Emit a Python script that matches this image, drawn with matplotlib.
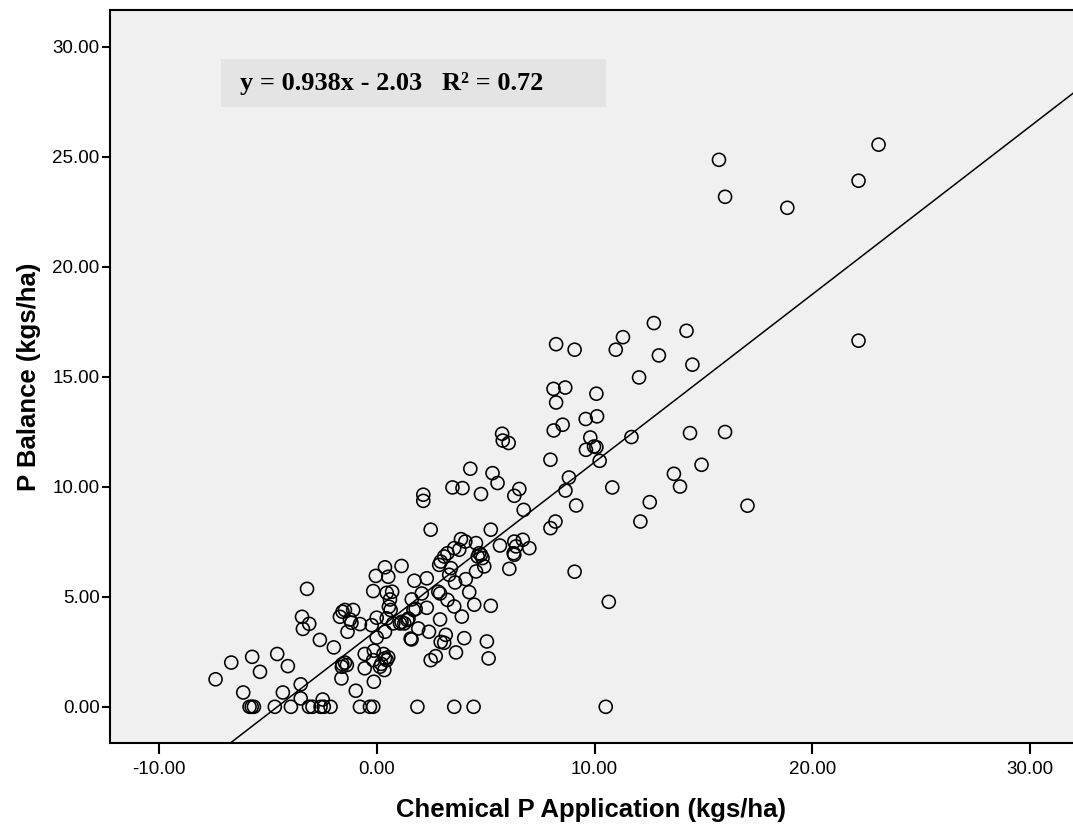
import numpy as np
import matplotlib
matplotlib.use("Agg")
import matplotlib.pyplot as plt
from matplotlib.patches import Rectangle

# chemical P application (x) and P balance (y)
chem_p = [
    -7.41, -6.69, -6.14, -5.73, -5.37, -5.85, -5.75, -5.65, -4.58, -4.69,
    -4.32, -4.09, -3.95, -3.50, -3.50, -3.21, -3.44, -3.40, -3.11, -3.12,
    -2.96, -2.59, -2.44, -2.49, -2.13, -2.62, -1.98, -1.59, -1.47, -1.38,
    -1.63, -1.61, -1.58, -1.47, -1.09, -1.70, -1.24, -1.17, -0.78, -1.35,
    -0.97, -0.78, -0.32, -0.17, -0.56, -0.14, -0.17, -0.56, -0.14, 0.14,
    0.34, 0.37, 0.52, 0.45, -0.01, 0.37, -0.24, -0.01, 0.45, 0.75,
    0.55, 0.63, 0.60, 0.45, 0.70, -0.17, -0.05, 0.52, 0.37, 1.13,
    1.06, 1.13, 1.40, 1.59, 1.68, 1.60, 2.06, 1.72, 2.29, 2.29,
    1.90, 2.39, 2.47, 1.86, 2.93, 3.09, 2.90, 2.82, 2.90, 3.16,
    3.63, 4.01, 5.05, 5.13, 3.55, 4.44, 3.90, 3.55, 3.24, 4.47,
    5.23, 4.24, 4.08, 3.59, 2.47, 2.13, 2.13, 3.40, 3.32, 2.93,
    2.86, 3.09, 3.24, 3.55, 3.78, 3.86, 4.06, 4.55, 4.63, 4.70,
    4.78, 4.85, 4.93, 4.55, 5.65, 5.23, 3.47, 3.93, 4.78, 4.29,
    5.31, 5.54, 5.75, 5.78, 6.05, 6.31, 6.54, 6.74, 6.31, 6.70,
    7.00, 6.39, 6.28, 6.31, 6.08, 7.97, 8.20, 7.97, 8.82, 8.66,
    9.15, 9.08, 10.65, 10.51, 8.23, 9.08, 11.30, 10.97, 12.72, 14.22,
    12.95, 14.49, 12.04, 8.11, 8.65, 8.23, 10.08, 10.11, 9.59, 8.53,
    8.12, 9.80, 9.97, 10.08, 9.60, 10.23, 11.69, 14.38, 15.99, 14.91,
    13.64, 13.92, 17.02, 10.81, 12.53, 12.10, 15.71, 15.99, 18.85, 22.12,
    23.04, 22.12, 1.45, 1.26, 1.78, 0.30, 0.20, 2.70, 1.55,
]
p_balance = [
    1.25, 2.01, 0.65, 2.27, 1.59, 0.00, 0.00, 0.00, 2.40, 0.00,
    0.65, 1.85, 0.00, 1.02, 0.38, 5.36, 4.09, 3.54, 3.77, 0.00,
    0.00, 0.00, 0.00, 0.33, 0.00, 3.04, 2.70, 1.94, 2.01, 1.90,
    1.29, 1.82, 4.32, 4.40, 4.40, 4.09, 3.97, 3.82, 3.76, 3.41,
    0.73, 0.00, 0.00, 0.00, 2.40, 2.55, 2.12, 1.75, 1.14, 1.82,
    1.67, 2.20, 2.25, 2.12, 3.15, 3.41, 3.71, 4.05, 4.02, 3.79,
    4.55, 4.40, 4.88, 5.18, 5.23, 5.26, 5.95, 5.91, 6.34, 6.40,
    3.79, 3.86, 3.94, 3.06, 4.40, 4.88, 5.15, 5.73, 5.84, 4.50,
    3.56, 3.41, 2.12, 0.00, 2.95, 2.91, 3.97, 5.23, 5.15, 3.27,
    2.47, 3.12, 2.97, 2.20, 0.00, 0.00, 4.10, 4.56, 4.86, 4.64,
    4.59, 5.21, 5.80, 5.65, 8.05, 9.64, 9.36, 6.30, 6.00, 6.60,
    6.45, 6.83, 6.98, 7.21, 7.14, 7.62, 7.51, 7.44, 6.83, 6.98,
    6.91, 6.76, 6.38, 6.15, 7.33, 8.05, 9.97, 9.94, 9.67, 10.82,
    10.62, 10.17, 12.41, 12.10, 11.99, 9.59, 9.90, 8.95, 7.51, 7.59,
    7.21, 7.29, 6.98, 6.91, 6.27, 8.12, 8.42, 11.23, 10.42, 9.83,
    9.15, 6.14, 4.77, 0.00, 16.48, 16.23, 16.80, 16.23, 17.44, 17.09,
    15.97, 15.55, 14.97, 14.45, 14.51, 13.83, 14.23, 13.20, 13.08, 12.82,
    12.56, 12.24, 11.83, 11.80, 11.68, 11.18, 12.26, 12.44, 12.49, 11.00,
    10.59, 10.01, 9.14, 9.97, 9.30, 8.42, 24.86, 23.18, 22.68, 23.91,
    25.55, 16.64, 4.01, 3.79, 4.45, 2.40, 1.95, 2.30, 3.10,
]

# fitted line as drawn in the chart, and the label printed in the box
FIT_SLOPE = 0.763
FIT_INTERCEPT = 3.49
EQUATION_LABEL = "y = 0.938x - 2.03   R² = 0.72"

x_ticks = [-10, 0, 10, 20, 30]
y_ticks = [0, 5, 10, 15, 20, 25, 30]


def main():
    plt.rcParams["font.family"] = ["Liberation Sans", "DejaVu Sans"]

    fig = plt.figure(figsize=(10.73, 8.26), dpi=100)
    fig.patch.set_facecolor("white")
    ax = fig.add_axes([0.1025, 0.1001, 0.8975, 0.8878])
    ax.set_facecolor("#f0f0f0")

    ax.set_xlim(-12.26, 31.97)
    ax.set_ylim(-1.66, 31.67)

    ax.scatter(chem_p, p_balance, s=88, facecolors="none",
               edgecolors="black", linewidths=1.15, zorder=3)

    x_line = np.array(ax.get_xlim())
    ax.plot(x_line, FIT_SLOPE * x_line + FIT_INTERCEPT,
            color="black", linewidth=1.1, zorder=2)

    # equation box
    ax.add_patch(Rectangle((0.1153, 0.8677), 0.3997, 0.0655,
                           transform=ax.transAxes, facecolor="#e4e4e4",
                           edgecolor="none", zorder=1))
    ax.text(0.135, 0.9004, EQUATION_LABEL, transform=ax.transAxes,
            fontsize=19, fontweight="bold", family=["Liberation Serif"],
            va="center", ha="left", zorder=4)

    ax.set_xticks(x_ticks)
    ax.set_yticks(y_ticks)
    ax.set_xticklabels([f"{v:.2f}" for v in x_ticks])
    ax.set_yticklabels([f"{v:.2f}" for v in y_ticks])
    ax.tick_params(axis="x", direction="out", length=8, width=1.5,
                   labelsize=13.5, pad=5)
    ax.tick_params(axis="y", direction="out", length=6, width=1.5,
                   labelsize=13.5, pad=1.5)

    for side in ["left", "bottom", "top"]:
        ax.spines[side].set_linewidth(1.5)
    ax.spines["right"].set_visible(False)

    ax.set_xlabel("Chemical P Application (kgs/ha)", fontsize=18.5,
                  fontweight="bold", labelpad=14)
    ax.set_ylabel("P Balance (kgs/ha)", fontsize=18.5, fontweight="bold",
                  labelpad=8)

    fig.savefig("out.png", dpi=100)


if __name__ == "__main__":
    main()
